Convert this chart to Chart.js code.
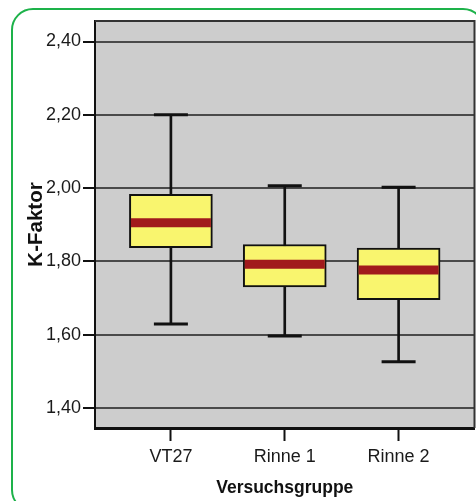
<!DOCTYPE html>
<html>
<head>
<meta charset="utf-8">
<script src="https://cdn.jsdelivr.net/npm/chart.js@4"></script>
<style>
html,body{margin:0;padding:0;background:#fff;overflow:hidden;width:476px;height:501px;}
#frame{position:absolute;left:11px;top:7.5px;width:474px;height:504px;box-sizing:border-box;border:2.5px solid #1db24a;border-radius:22px;}
#c{position:absolute;left:0;top:0;}
</style>
</head>
<body>
<div id="frame"></div>
<canvas id="c" width="476" height="501"></canvas>
<script>
// ---- data ----
const categories = ['VT27', 'Rinne 1', 'Rinne 2'];
const whiskerLow  = [1.629, 1.596, 1.526];
const q1          = [1.837, 1.730, 1.695];
const medians     = [1.905, 1.792, 1.776];
const q3          = [1.983, 1.846, 1.836];
const whiskerHigh = [2.200, 2.006, 2.002];
const yTickValues = [1.40, 1.60, 1.80, 2.00, 2.20, 2.40];
const yTickLabels = ['1,40', '1,60', '1,80', '2,00', '2,20', '2,40'];
const yTitle = 'K-Faktor';
const xTitle = 'Versuchsgruppe';

const idx = categories.map((_, i) => i);
const sans = "'Liberation Sans', Arial, sans-serif";

const plotBg = {
  id: 'plotBg',
  beforeDraw(chart) {
    const {ctx, chartArea: a} = chart;
    ctx.save();
    ctx.fillStyle = '#cdcdcd';
    ctx.fillRect(a.left, a.top, a.right - a.left, a.bottom - a.top);
    ctx.restore();
  },
  afterDraw(chart) {
    const {ctx, chartArea: a} = chart;
    ctx.save();
    ctx.strokeStyle = '#333';
    ctx.lineWidth = 2;
    ctx.beginPath();
    ctx.moveTo(a.left, a.top);
    ctx.lineTo(a.right, a.top);
    ctx.lineTo(a.right, a.bottom);
    ctx.stroke();
    ctx.restore();
  }
};

new Chart(document.getElementById('c'), {
  type: 'bar',
  data: {
    datasets: [
      {
        type: 'scatter', order: 1,
        data: idx.map(i => ({x: i, y: medians[i]})),
        pointStyle: 'line', pointRadius: 40, pointHoverRadius: 40,
        borderColor: '#a11a1c', borderWidth: 9, pointBorderWidth: 9
      },
      {
        type: 'bar', order: 2, grouped: false,
        data: idx.map(i => ({x: i, y: [q1[i], q3[i]]})),
        backgroundColor: '#f9f56e', borderColor: '#111', borderWidth: 2,
        borderSkipped: false, barThickness: 83
      },
      {
        type: 'scatter', order: 3,
        data: idx.map(i => ({x: i, y: whiskerLow[i]})).concat(idx.map(i => ({x: i, y: whiskerHigh[i]}))),
        pointStyle: 'line', pointRadius: 17, pointHoverRadius: 17,
        borderColor: '#111', borderWidth: 3, pointBorderWidth: 3
      },
      {
        type: 'bar', order: 4, grouped: false,
        data: idx.map(i => ({x: i, y: [whiskerLow[i], whiskerHigh[i]]})),
        backgroundColor: '#111', borderWidth: 0, barThickness: 2
      }
    ]
  },
  options: {
    responsive: false,
    animation: false,
    events: [],
    layout: {autoPadding: false, padding: {top: 21, right: 1.5, left: 0, bottom: 0}},
    plugins: {legend: {display: false}, tooltip: {enabled: false}},
    scales: {
      x: {
        type: 'linear', min: -2/3, max: 8/3, offset: false,
        afterBuildTicks(s) { s.ticks = idx.map(v => ({value: v})); },
        afterFit(s) { s.height = 73; s.paddingLeft = 0; s.paddingRight = 0; },
        ticks: {
          autoSkip: false, maxRotation: 0, padding: 5,
          color: '#1a1a1a', font: {family: sans, size: 18},
          callback: (v, i) => categories[i]
        },
        grid: {offset: false, drawOnChartArea: false, drawTicks: true, tickLength: 13, tickColor: '#111', tickWidth: 2},
        border: {display: true, color: '#111', width: 3},
        title: {display: true, text: xTitle, color: '#111', font: {family: sans, size: 17.5, weight: 'bold'}, padding: {top: 0, bottom: 2}}
      },
      y: {
        type: 'linear', min: 1.345, max: 2.456,
        afterBuildTicks(s) { s.ticks = yTickValues.map(v => ({value: v})); },
        afterFit(s) { s.width = 95; s.paddingTop = 0; s.paddingBottom = 0; },
        ticks: {
          padding: 2, color: '#1a1a1a', font: {family: sans, size: 18},
          callback: (v, i) => yTickLabels[i]
        },
        grid: {color: '#4a4a4a', lineWidth: 2, drawTicks: true, tickLength: 12, tickColor: '#111', tickWidth: 2},
        border: {display: true, color: '#111', width: 2},
        title: {display: true, text: yTitle, color: '#111', font: {family: sans, size: 20.5, weight: 'bold'}, padding: {top: 24, bottom: 0}}
      }
    }
  },
  plugins: [plotBg]
});
</script>
</body>
</html>
